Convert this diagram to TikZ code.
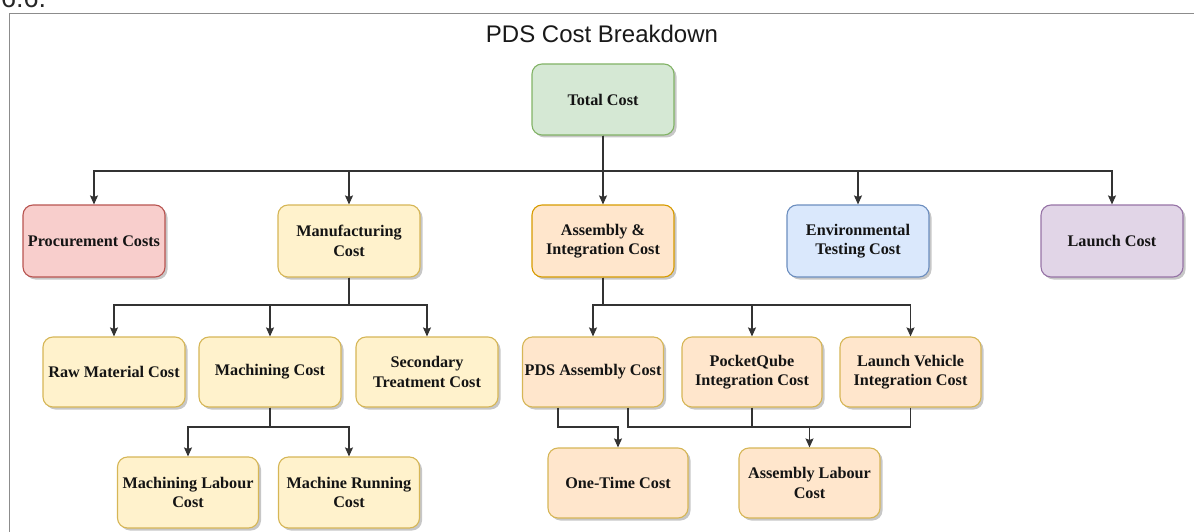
\documentclass[tikz,border=0pt]{standalone}
\usepackage{fontspec}
\setmainfont{Liberation Serif}
\newfontfamily\titlefont{Liberation Sans}
\usetikzlibrary{arrows.meta,shadows,calc}
\definecolor{grnF}{HTML}{D5E8D4}\definecolor{grnD}{HTML}{82B366}
\definecolor{redF}{HTML}{F8CECC}\definecolor{redD}{HTML}{B85450}
\definecolor{yelF}{HTML}{FFF2CC}\definecolor{yelD}{HTML}{D6B656}
\definecolor{orgF}{HTML}{FFE6CC}\definecolor{orgD}{HTML}{D79B00}
\definecolor{bluF}{HTML}{DAE8FC}\definecolor{bluD}{HTML}{6C8EBF}
\definecolor{purF}{HTML}{E1D5E7}\definecolor{purD}{HTML}{9673A6}
\definecolor{txt}{HTML}{141414}
\definecolor{framegray}{HTML}{8C8C8C}
\tikzset{
  costbox/.style={rounded corners=10pt, line width=1.1pt, minimum width=142pt, minimum height=71pt,
    inner sep=0pt, align=center, text=txt, font=\fontsize{16.2}{19.5}\selectfont\bfseries,
    general shadow={fill=black!22, shadow xshift=2.5pt, shadow yshift=-2.5pt}},
  greenbox/.style={costbox, fill=grnF, draw=grnD},
  redbox/.style={costbox, fill=redF, draw=redD},
  yellowbox/.style={costbox, fill=yelF, draw=yelD},
  orangebox/.style={costbox, fill=orgF, draw=orgD},
  orangesub/.style={costbox, fill=orgF, draw=yelD},
  bluebox/.style={costbox, fill=bluF, draw=bluD},
  purplebox/.style={costbox, fill=purF, draw=purD},
  conn/.style={line width=1.2pt, draw=black!80},
  arr/.style={conn, -{Stealth[length=9pt,width=8pt,inset=1.5pt]}}
}
\begin{document}
\begin{tikzpicture}[x=1pt,y=-1pt]
\useasboundingbox (0,0) rectangle (1194,532);
% frame
\draw[framegray, line width=1.5pt] (9.5,545) -- (9.5,13.5) -- (1210,13.5);
\node[anchor=base west, inner sep=0pt, font=\titlefont\fontsize{27}{27}\selectfont, text=black!85] (frag) at (1,8) {6.6.};
\node[anchor=base, inner sep=0pt, font=\titlefont\fontsize{24}{24}\selectfont, text=black!90] (title) at (602,43) {PDS Cost Breakdown};

% nodes
\node[greenbox] (total) at (603,99.5) {Total Cost};
\node[redbox, minimum height=72pt] (proc) at (94,241) {Procurement Costs};
\node[yellowbox, minimum height=72pt] (manu) at (349,241) {Manufacturing\\Cost};
\node[orangebox, minimum height=72pt] (asm) at (603,241) {Assembly \&\\Integration Cost};
\node[bluebox, minimum height=72pt] (env) at (858,241) {Environmental\\Testing Cost};
\node[purplebox, minimum height=72pt] (launch) at (1112,241) {Launch Cost};

\node[yellowbox, minimum height=70pt] (raw) at (114,372) {Raw Material Cost};
\node[yellowbox, minimum height=70pt] (mach) at (270,372) {Machining Cost};
\node[yellowbox, minimum height=70pt] (sec) at (427,372) {Secondary\\Treatment Cost};

\node[yellowbox, minimum width=141pt] (lab) at (188,492.5) {Machining Labour\\Cost};
\node[yellowbox, minimum width=141pt] (run) at (349,492.5) {Machine Running\\Cost};

\node[orangesub, minimum height=70pt, minimum width=141pt] (pds) at (593,372) {PDS Assembly Cost};
\node[orangesub, minimum height=70pt, minimum width=140pt] (pq) at (752,372) {PocketQube\\Integration Cost};
\node[orangesub, minimum height=70pt, minimum width=141pt] (lv) at (910.5,372) {Launch Vehicle\\Integration Cost};

\node[orangesub, minimum height=70pt, minimum width=140pt] (one) at (618,483) {One-Time Cost};
\node[orangesub, minimum height=70pt, minimum width=141pt] (alab) at (809.5,483) {Assembly Labour\\Cost};

% bus coordinates
\coordinate (tb) at (603,171);
\coordinate (mb) at (349,305);
\coordinate (ab) at (603,305);
\coordinate (cb) at (270,427);
\coordinate (oj) at (618,427);
\coordinate (aj) at (809.5,427);

% connectors
\foreach \t in {proc,manu,asm,env,launch}{\draw[arr] (total) -- (tb) -| (\t);}
\foreach \t in {raw,mach,sec}{\draw[arr] (manu) -- (mb) -| (\t);}
\foreach \t in {lab,run}{\draw[arr] (mach) -- (cb) -| (\t);}
\foreach \t in {pds,pq,lv}{\draw[arr] (asm) -- (ab) -| (\t);}
\draw[arr] ([xshift=-35pt]pds.south) |- (oj) -- (one);
\draw[conn] ([xshift=35pt]pds.south) |- (aj);
\draw[conn] (pq) |- (aj);
\draw[conn] (lv) |- (aj);
\draw[arr] (aj) -- (alab);
\end{tikzpicture}
\end{document}
